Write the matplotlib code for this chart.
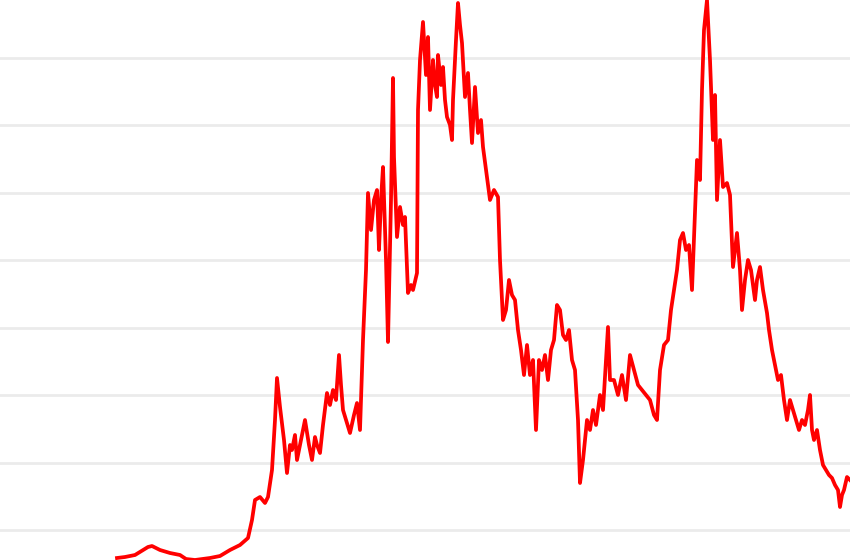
import numpy as np
import matplotlib.pyplot as plt

# serie leida a ojo del grafico (x = posicion en el tiempo, y = posicion vertical en pixeles)
t = [117, 125, 135, 148, 152, 160, 170, 180, 186, 195, 210, 220, 230, 240, 248, 252, 255, 260,
     265, 268, 272, 275, 277, 280, 284, 287, 290, 292, 295, 297, 301, 305, 309, 312, 315, 317,
     320, 323, 327, 330, 333, 336, 339, 341, 343, 346, 350, 354, 357, 360, 363, 366, 368, 371,
     374, 377, 379, 381, 383, 386, 388, 391, 393, 394, 397, 400, 403, 405, 408, 411, 413, 417,
     418, 420, 423, 426, 428, 430, 433, 435, 437, 438, 441, 443, 445, 447, 450, 452, 453, 456,
     458, 460, 462, 465, 468, 470, 472, 475, 478, 481, 483, 487, 490, 494, 498, 500, 503, 506,
     509, 512, 515, 518, 521, 524, 527, 530, 533, 536, 539, 542, 545, 548, 551, 554, 557, 560,
     563, 566, 569, 572, 575, 578, 580, 583, 585, 587, 590, 593, 596, 600, 603, 606, 608, 610,
     614, 618, 622, 626, 630, 634, 638, 642, 646, 650, 654, 657, 660, 664, 668, 671, 674, 677,
     680, 683, 686, 689, 692, 695, 697, 700, 702, 704, 707, 710, 713, 715, 717, 720, 723, 727,
     730, 733, 737, 740, 742, 745, 748, 751, 755, 757, 760, 763, 767, 769, 772, 775, 778, 781,
     784, 787, 790, 793, 796, 799, 802, 805, 808, 810, 812, 814, 817, 820, 823, 826, 829, 832,
     835, 838, 840, 842, 844, 847, 850]
pix = [558, 557, 555, 547, 546, 550, 553, 555, 559, 560, 558, 556, 550, 545, 538, 520, 500, 497,
       503, 497, 470, 420, 378, 407, 440, 473, 445, 450, 435, 460, 440, 420, 445, 460, 437, 445,
       453, 425, 393, 405, 390, 400, 355, 385, 410, 420, 433, 415, 403, 430, 340, 270, 193, 230,
       200, 190, 250, 200, 167, 260, 342, 200, 78, 157, 237, 207, 225, 217, 293, 285, 290, 273,
       110, 60, 22, 75, 37, 110, 60, 85, 97, 55, 85, 67, 100, 117, 125, 140, 100, 40,
       3, 25, 43, 97, 73, 110, 143, 87, 133, 120, 147, 177, 200, 190, 197, 260, 320, 310,
       280, 295, 300, 330, 350, 375, 345, 375, 360, 430, 360, 370, 355, 380, 350, 340, 305, 310,
       335, 340, 330, 360, 370, 420, 483, 460, 440, 420, 430, 410, 425, 395, 410, 360, 327, 380,
       380, 395, 375, 400, 355, 370, 385, 390, 395, 400, 415, 420, 370, 345, 340, 310, 290, 270,
       240, 233, 250, 245, 290, 213, 160, 180, 90, 30, 0, 60, 140, 95, 200, 140, 187, 183,
       195, 267, 233, 270, 310, 280, 260, 270, 300, 280, 267, 290, 313, 330, 350, 365, 380, 375,
       400, 420, 400, 410, 420, 430, 420, 425, 410, 395, 430, 440, 430, 450, 465, 470, 475, 478,
       485, 490, 507, 495, 490, 477, 480]
nivel = [1 + (530 - p) / 67.5 for p in pix]

fig = plt.figure(figsize=(8.5, 5.6), dpi=100)
ax = fig.add_axes([0, 0, 1, 1])
ax.set_xlim(0, 850)
ax.set_ylim(1 - 30 / 67.5, 1 + 530 / 67.5)
for g in range(1, 9):
    ax.axhline(g, color='#ebebeb', lw=2, zorder=1)
ax.plot(t, nivel, color='#ff0000', lw=2.7, zorder=2)
ax.axis('off')
fig.savefig('out.png', dpi=100)
